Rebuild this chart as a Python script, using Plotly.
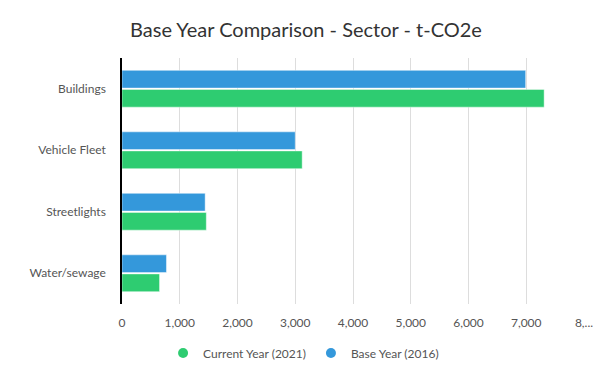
import plotly.graph_objects as go

categories = ["Buildings", "Vehicle Fleet", "Streetlights", "Water/sewage"]
base_year = [6990, 3000, 1440, 770]
current_year = [7310, 3120, 1460, 650]
tick_vals = [0, 1000, 2000, 3000, 4000, 5000, 6000, 7000, 8000]
tick_text = ["0", "1,000", "2,000", "3,000", "4,000", "5,000", "6,000", "7,000", "8,..."]

BLUE = "#3498db"
GREEN = "#2ecc71"

fig = go.Figure()
fig.add_trace(go.Bar(
    y=categories, x=base_year, orientation="h", name="Base Year (2016)",
    marker=dict(color=BLUE, line=dict(color="rgba(255,255,255,0.45)", width=1)),
    showlegend=False,
))
fig.add_trace(go.Bar(
    y=categories, x=current_year, orientation="h", name="Current Year (2021)",
    marker=dict(color=GREEN, line=dict(color="rgba(255,255,255,0.45)", width=1)),
    showlegend=False,
))
# legend entries with circle markers
fig.add_trace(go.Scatter(x=[None], y=[None], mode="markers", name="Current Year (2021)",
                         marker=dict(color=GREEN, size=10, symbol="circle")))
fig.add_trace(go.Scatter(x=[None], y=[None], mode="markers", name="Base Year (2016)",
                         marker=dict(color=BLUE, size=10, symbol="circle")))

fig.update_layout(
    width=612, height=377,
    margin=dict(l=121.5, r=28, t=58, b=73, autoexpand=False),
    paper_bgcolor="white", plot_bgcolor="white",
    font=dict(family="Lato", color="#555555", size=12),
    title=dict(text="Base Year Comparison - Sector - t-CO2e", x=0.5, xanchor="center",
               y=0.921, yanchor="middle", font=dict(family="Lato", size=20, color="#333333")),
    barmode="group", bargap=0.38, bargroupgap=0.07,
    legend=dict(orientation="h", x=0.393, xanchor="center", y=-0.199, yanchor="middle",
                font=dict(size=12, color="#555555"), itemwidth=30, tracegroupgap=0),
    xaxis=dict(range=[0, 8000], tickvals=tick_vals, ticktext=tick_text,
               showgrid=True, gridcolor="#dddddd", gridwidth=1, zeroline=False,
               ticks="", showline=False, ticklabelstandoff=10, automargin=False,
               tickfont=dict(size=12, color="#555555")),
    yaxis=dict(categoryorder="array", categoryarray=categories, autorange="reversed",
               showline=True, linecolor="#000000", linewidth=1.5, showgrid=False,
               ticks="", ticklabelstandoff=12, automargin=False,
               tickfont=dict(size=12, color="#555555")),
)

fig.write_html("out.html", config={"displayModeBar": False},
               post_script="document.body.style.margin='0';")
